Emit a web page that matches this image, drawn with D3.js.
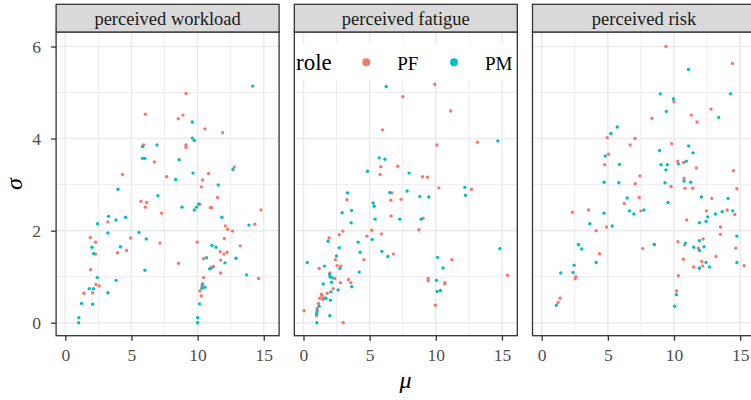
<!DOCTYPE html>
<html><head><meta charset="utf-8">
<script src="https://cdn.jsdelivr.net/npm/d3@7"></script>
<style>html,body{margin:0;padding:0;background:#fff;}svg{display:block;}</style>
</head><body>
<script>
// ---- data ----
const facets = ["perceived workload", "perceived fatigue", "perceived risk"];
const roles = ["PF", "PM"];
const roleColors = ["#F8766D", "#00BFC4"];
const xTicks = [0, 5, 10, 15];
const yTicks = [0, 2, 4, 6];
const xMinor = [2.5, 7.5, 12.5];
const yMinor = [1, 3, 5];

// perceived workload
const workloadPF_mu = [9.12,6.05,8.89,8.54,10.55,11.89,5.92,9.12,9.12,6.73,4.33,10.83,12.77,7.66,10.38,10.28,11.51,5.72,6.15,6.05,10.18,10.96,11.06,7.28,14.79,3.22,12.09,12.27,12.64,14.33,1.89,2.29,4.94,7.15,9.97,12.02,4.63,3.95,2.29,11.71,11.99,12.22,13.22,10.45,11.74,8.56,11.2,11.1,1.91,11.74,14.61,10.45,2.32,2.57,10.33,10.18,1.41,2.07,10.28];
const workloadPF_sigma = [4.98,4.53,4.51,4.43,4.21,4.13,3.86,3.86,3.81,3.49,3.22,3.24,3.38,3.17,3.10,2.95,2.72,2.64,2.61,2.51,2.57,2.50,2.50,2.38,2.45,2.19,2.10,2.03,1.99,2.14,1.85,1.75,1.84,1.73,1.75,1.83,1.57,1.52,1.49,1.54,1.49,1.53,1.67,1.39,1.36,1.29,1.22,1.20,1.15,1.08,0.96,0.98,0.83,0.80,0.80,0.69,0.64,0.65,0.58];
const workloadPM_mu = [14.16,9.60,9.60,9.75,5.84,6.93,5.84,6.02,8.61,9.65,12.67,8.34,11.56,3.98,7.00,8.82,10.08,9.92,9.75,3.27,3.83,4.56,2.44,11.84,13.88,3.22,5.57,6.12,2.02,4.16,2.14,11.08,11.39,12.90,10.68,12.07,11.0,10.9,6.02,13.70,2.42,3.85,10.38,1.81,2.14,10.33,10.55,3.22,1.23,2.07,10.15,1.03,1.01,10.0,10.0];
const workloadPM_sigma = [5.14,4.36,4.01,3.96,3.83,3.86,3.57,3.57,3.54,3.25,3.33,3.11,2.99,2.90,2.76,2.51,2.58,2.51,2.45,2.31,2.23,2.29,2.15,2.29,2.12,1.95,1.96,1.82,1.64,1.65,1.50,1.68,1.64,1.40,1.41,1.30,1.19,1.17,1.14,1.04,0.98,0.92,0.84,0.74,0.74,0.75,0.77,0.65,0.42,0.40,0.41,0.11,0.0,0.11,0.0];

// perceived fatigue
const fatiguePF_mu = [9.92,7.51,11.13,5.97,10.08,13.15,5.84,7.13,5.79,8.99,9.37,10.23,12.70,6.68,3.28,6.60,7.38,6.62,9.04,8.72,2.97,2.70,1.94,4.79,5.16,5.89,6.80,2.41,4.56,11.21,2.54,2.82,1.18,2.0,2.37,9.42,9.42,10.68,10.68,3.40,3.58,2.80,2.24,1.79,1.36,1.39,1.23,1.46,1.13,1.03,0.98,9.97,0.05,3.0,15.42];
const fatiguePF_sigma = [5.18,4.91,4.60,4.19,3.86,3.92,3.39,3.40,3.22,3.17,3.16,2.93,2.90,2.82,2.67,2.66,2.68,2.32,2.27,2.02,1.99,1.91,1.84,1.88,2.01,1.93,1.49,1.37,1.37,1.37,1.24,1.23,1.18,1.08,0.96,0.96,0.91,0.87,0.84,0.94,0.87,0.87,0.74,0.64,0.62,0.58,0.53,0.51,0.42,0.31,0.15,0.38,0.26,0.0,1.03];
const fatiguePM_mu = [6.25,14.69,5.72,6.15,4.84,7.98,12.19,3.32,6.52,7.83,8.79,9.47,12.24,5.26,5.34,2.92,3.63,3.60,5.41,7.28,8.89,1.86,4.13,5.19,2.70,5.92,4.28,6.37,2.49,14.84,10.13,0.28,1.59,2.75,10.55,4.21,1.98,2.0,2.15,10.05,2.12,1.49,3.65,2.62,10.10,10.35,2.07,1.61,1.70,2.04,1.18,1.03,1.0,1.99,1.01];
const fatiguePM_sigma = [5.13,3.95,3.58,3.55,3.29,3.25,2.94,2.82,2.83,2.86,2.74,2.73,2.77,2.60,2.53,2.39,2.44,2.17,2.25,2.25,2.25,1.77,1.75,1.81,1.63,1.55,1.53,1.44,1.45,1.61,1.42,1.31,1.23,1.18,1.19,1.10,1.05,1.00,0.98,0.92,0.88,0.84,0.78,0.71,0.68,0.70,0.67,0.53,0.53,0.49,0.36,0.26,0.20,0.15,0.0];

// perceived risk
const riskPF_mu = [9.39,14.42,10.0,12.80,11.31,11.74,8.33,4.95,7.05,6.69,9.82,5.05,4.77,10.28,10.73,11.69,14.49,7.42,10.76,7.07,9.77,10.83,11.41,14.75,12.85,7.37,6.24,7.50,2.32,3.54,4.12,4.90,10.96,12.45,14.02,14.60,13.51,13.51,4.37,2.58,2.53,7.63,8.51,10.30,10.81,11.84,12.20,13.16,10.71,12.10,11.49,12.17,11.92,14.67,15.30,10.33,10.20,1.39,1.24];
const riskPF_sigma = [6.0,5.63,4.80,4.64,4.51,4.36,4.44,4.02,4.0,3.86,3.89,3.66,3.43,3.51,3.48,3.36,3.30,3.19,3.14,3.02,2.96,2.92,2.92,2.91,2.70,2.72,2.59,2.43,2.40,2.45,2.0,2.08,2.23,2.43,2.45,2.35,2.08,1.92,1.50,1.0,0.96,1.61,1.70,1.76,1.69,1.62,1.82,1.44,1.38,1.33,1.21,1.23,1.18,1.62,1.24,1.02,0.69,0.53,0.44];
const riskPM_mu = [11.09,8.96,14.27,9.95,9.42,13.38,5.71,5.23,11.11,8.91,4.80,11.44,5.88,10.33,10.93,9.02,9.49,9.39,4.72,5.83,10.76,11.26,9.32,12.07,14.09,6.46,6.64,6.97,7.73,9.55,4.70,3.64,5.33,11.92,12.42,12.55,13.13,13.64,14.44,14.75,2.78,3.03,4.12,2.45,1.44,2.37,8.51,10.86,11.49,11.92,11.92,12.27,12.42,11.92,12.68,14.75,10.18,10.05,1.11];
const riskPM_sigma = [5.50,4.97,4.97,4.86,4.59,4.46,4.25,4.11,3.84,3.74,3.62,3.69,3.44,3.45,3.51,3.43,3.43,3.32,3.05,3.04,3.08,3.05,3.04,2.73,2.70,2.71,2.43,2.36,2.45,2.61,2.38,2.15,2.10,2.17,2.20,2.30,2.36,2.41,2.43,1.88,1.70,1.60,1.31,1.25,1.08,1.09,1.70,1.73,1.64,1.57,1.78,1.65,1.31,1.19,1.21,1.31,0.61,0.36,0.38];

const panelData = [
  [[workloadPF_mu, workloadPF_sigma], [workloadPM_mu, workloadPM_sigma]],
  [[fatiguePF_mu, fatiguePF_sigma], [fatiguePM_mu, fatiguePM_sigma]],
  [[riskPF_mu, riskPF_sigma], [riskPM_mu, riskPM_sigma]]
];

// ---- layout ----
const W = 751, H = 400;
const panelX0 = 56.1, panelStride = 238.2, panelW = 223;
const panelTop = 32, panelBottom = 335.7, stripTop = 4.3;
const font = "'Liberation Serif', 'Times New Roman', serif";

const svg = d3.select("body").append("svg").attr("width", W).attr("height", H)
  .style("font-family", font);
svg.append("rect").attr("width", W).attr("height", H).attr("fill", "#fff");

const x = d3.scaleLinear().domain([-0.695, 16.16]).range([0, panelW]);
const y = d3.scaleLinear().domain([-0.282, 6.315]).range([panelBottom, panelTop]);

facets.forEach((name, i) => {
  const g = svg.append("g").attr("transform", `translate(${panelX0 + i * panelStride},0)`);
  g.append("rect").attr("x", 0).attr("y", panelTop).attr("width", panelW)
    .attr("height", panelBottom - panelTop).attr("fill", "#fff");
  g.selectAll(".xmin").data(xMinor).join("line")
    .attr("x1", d => x(d)).attr("x2", d => x(d)).attr("y1", panelTop).attr("y2", panelBottom)
    .attr("stroke", "#ebebeb").attr("stroke-width", 0.9);
  g.selectAll(".ymin").data(yMinor).join("line")
    .attr("y1", d => y(d)).attr("y2", d => y(d)).attr("x1", 0).attr("x2", panelW)
    .attr("stroke", "#ebebeb").attr("stroke-width", 0.9);
  g.selectAll(".xmaj").data(xTicks).join("line")
    .attr("x1", d => x(d)).attr("x2", d => x(d)).attr("y1", panelTop).attr("y2", panelBottom)
    .attr("stroke", "#ebebeb").attr("stroke-width", 1.6);
  g.selectAll(".ymaj").data(yTicks).join("line")
    .attr("y1", d => y(d)).attr("y2", d => y(d)).attr("x1", 0).attr("x2", panelW)
    .attr("stroke", "#ebebeb").attr("stroke-width", 1.6);

  if (i === 1) {
    g.append("rect").attr("x", 0).attr("y", 43.5).attr("width", panelW).attr("height", 36.5).attr("fill", "#fff");
  }

  panelData[i].forEach((pair, r) => {
    const pts = pair[0].map((m, k) => [m, pair[1][k]]);
    g.append("g").selectAll("circle").data(pts).join("circle")
      .attr("cx", d => x(d[0])).attr("cy", d => y(d[1])).attr("r", 1.7)
      .attr("fill", roleColors[r]);
  });

  g.append("rect").attr("x", 0).attr("y", panelTop).attr("width", panelW)
    .attr("height", panelBottom - panelTop).attr("fill", "none").attr("stroke", "#333").attr("stroke-width", 1.3);
  g.append("rect").attr("x", 0).attr("y", stripTop).attr("width", panelW)
    .attr("height", panelTop - stripTop).attr("fill", "#d9d9d9").attr("stroke", "#333").attr("stroke-width", 1.3);
  g.append("text").attr("x", panelW / 2).attr("y", 25).attr("text-anchor", "middle")
    .attr("font-size", 18.5).attr("fill", "#1a1a1a").text(name);

  const xa = g.append("g").attr("transform", `translate(0,${panelBottom})`)
    .call(d3.axisBottom(x).tickValues(xTicks).tickSize(5).tickPadding(8).tickFormat(d3.format("d")));
  xa.select(".domain").remove();
  xa.selectAll(".tick line").attr("stroke", "#333").attr("stroke-width", 1.3);
  xa.selectAll(".tick text").attr("font-family", font).attr("font-size", 17.5).attr("fill", "#4d4d4d");
});

const ya = svg.append("g").attr("transform", `translate(${panelX0},0)`)
  .call(d3.axisLeft(y).tickValues(yTicks).tickSize(5).tickPadding(10).tickFormat(d3.format("d")));
ya.select(".domain").remove();
ya.selectAll(".tick line").attr("stroke", "#333").attr("stroke-width", 1.3);
ya.selectAll(".tick text").attr("font-family", font).attr("font-size", 17.5).attr("fill", "#4d4d4d");

const leg = svg.append("g");
leg.append("text").attr("x", 296).attr("y", 70).attr("font-size", 23).attr("fill", "#000").text("role");
roles.forEach((r, k) => {
  const cx = [366.3, 454][k];
  leg.append("circle").attr("cx", cx).attr("cy", 62.3).attr("r", 4).attr("fill", roleColors[k]);
  leg.append("text").attr("x", cx + 31).attr("y", 70).attr("font-size", 19).attr("fill", "#000").text(r);
});

svg.append("text").attr("x", 405.5).attr("y", 388).attr("text-anchor", "middle")
  .attr("font-size", 24).attr("font-style", "italic").attr("fill", "#000").text("μ");
svg.append("text").attr("transform", "translate(22,184) rotate(-90)").attr("text-anchor", "middle")
  .attr("font-size", 24).attr("font-style", "italic").attr("fill", "#000").text("σ");
</script>
</body></html>
